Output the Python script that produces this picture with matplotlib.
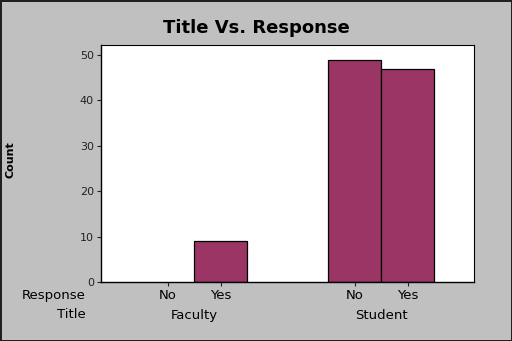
import matplotlib
matplotlib.use("Agg")
import matplotlib.pyplot as plt
import numpy as np

titles = ["Faculty", "Student"]
responses = ["No", "Yes"]
counts = [0, 9, 49, 47]
yticks = [0, 10, 20, 30, 40, 50]

bar_color = "#9b3566"
bg = "#c0c0c0"

fig = plt.figure(figsize=(5.12, 3.41), dpi=100, facecolor=bg,
                 edgecolor="#202020", linewidth=2)
ax = fig.add_axes([101 / 512, 1 - 282 / 341, 373 / 512, 237 / 341])

# bar centres: two per group, gap between the groups
group_gap = 1.52
x = []
for g in range(len(titles)):
    for r in range(len(responses)):
        x.append(g * (len(responses) + group_gap) + r)
x = np.array(x)

lw = [0.9 if c > 0 else 0 for c in counts]
ax.bar(x, counts, width=1.0, color=bar_color, edgecolor="black", linewidth=lw)

ax.set_xlim(-1.26, 5.77)
ax.set_ylim(0, 52.2)
ax.set_yticks(yticks)
ax.tick_params(axis="y", labelsize=8, length=3, pad=2, colors="#222222")
ax.set_xticks(x)
ax.set_xticklabels([])
ax.tick_params(axis="x", length=3, colors="#222222")
for s in ["top", "right"]:
    ax.spines[s].set_linewidth(0.8)
for s in ["left", "bottom"]:
    ax.spines[s].set_linewidth(1.0)

fig.text(256 / 512, 1 - 28 / 341, "Title Vs. Response", ha="center", va="center",
         fontsize=13, fontweight="bold")
fig.text(10 / 512, 1 - 160 / 341, "Count", rotation=90, ha="center", va="center",
         fontsize=8, fontweight="bold")

# two-level category labels under the axis
trans = ax.get_xaxis_transform()
for xi, lab in zip(x, responses * len(titles)):
    ax.text(xi, -0.058, lab, transform=trans, ha="center", va="center", fontsize=9.5)
for g, lab in enumerate(titles):
    xc = x[g * len(responses):(g + 1) * len(responses)].mean()
    ax.text(xc, -0.14, lab, transform=trans, ha="center", va="center", fontsize=9.5)
fig.text(86 / 512, 1 - 296 / 341, "Response", ha="right", va="center", fontsize=9.5)
fig.text(86 / 512, 1 - 315 / 341, "Title", ha="right", va="center", fontsize=9.5)

fig.savefig("out.png", dpi=100, facecolor=bg, edgecolor="#202020")
